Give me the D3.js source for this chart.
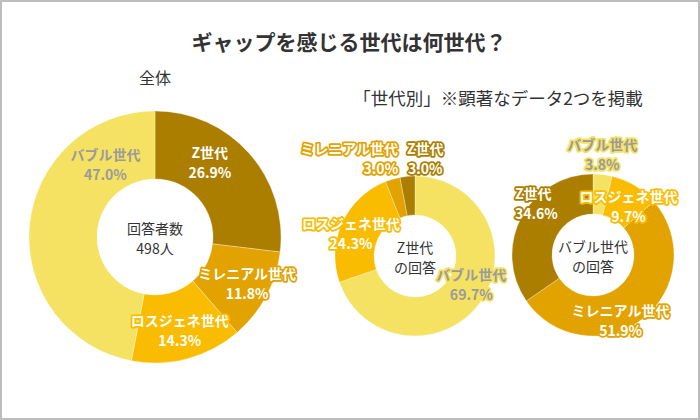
<!DOCTYPE html>
<html>
<head>
<meta charset="utf-8">
<script src="https://cdn.jsdelivr.net/npm/d3@7"></script>
<style>
  html, body { margin: 0; padding: 0; background: #fff; }
  svg text { font-family: "Noto Sans CJK JP", "Noto Sans", sans-serif; }
</style>
</head>
<body>
<svg id="chart"></svg>
<script>
// generations and values
const allGenerations = ['Z世代', 'ミレニアル世代', 'ロスジェネ世代', 'バブル世代']
const allValues = [26.9, 11.8, 14.3, 47.0]

const zGenerations = ['バブル世代', 'ロスジェネ世代', 'ミレニアル世代', 'Z世代']
const zValues = [69.7, 24.3, 3.0, 3.0]

const bubbleGenerations = ['バブル世代', 'ロスジェネ世代', 'ミレニアル世代', 'Z世代']
const bubbleValues = [3.8, 9.7, 51.9, 34.6]

const centerLabels = [['回答者数', '498人'], ['Z世代', 'の回答'], ['バブル世代', 'の回答']]

const titleText = 'ギャップを感じる世代は何世代？'
const allText = '全体'
const subText = '「世代別」※顕著なデータ2つを掲載'

const width = 700
const height = 420

const colors = {
    'Z世代': '#ac7e00',
    'ミレニアル世代': '#e2a200',
    'ロスジェネ世代': '#f9bc00',
    'バブル世代': '#f5e262'
}
const textColor = (g) => g === 'バブル世代' ? '#9b9b9b' : '#ffffff'

let svg = d3.select('#chart')
    .attr('width', width)
    .attr('height', height)

/* Frame */
svg.append('rect')
    .attr('x', 1).attr('y', 1)
    .attr('width', width - 2).attr('height', height - 2)
    .attr('fill', '#fff')
    .attr('stroke', '#bdbdbd')
    .attr('stroke-width', 2)

/* Titles */
svg.append('text')
    .attr('x', 349).attr('y', 50)
    .attr('text-anchor', 'middle')
    .attr('font-size', 21).attr('font-weight', 'bold')
    .attr('fill', '#333')
    .text(titleText)

svg.append('text')
    .attr('x', 155).attr('y', 84)
    .attr('text-anchor', 'middle')
    .attr('font-size', 16)
    .attr('fill', '#333')
    .text(allText)

svg.append('text')
    .attr('x', 498).attr('y', 105)
    .attr('text-anchor', 'middle')
    .attr('font-size', 17.5)
    .attr('fill', '#333')
    .text(subText)

/* Donuts: layout + label nudges (dx, dy, anchor) */
const charts = [
    {
        cats: allGenerations, vals: allValues, center: centerLabels[0],
        cx: 155, cy: 237, r0: 58, r1: 126,
        nudge: [[-14, -14, 'middle'], [11, 3, 'middle'], [1, 4, 'middle'], [42, -64, 'middle']]
    },
    {
        cats: zGenerations, vals: zValues, center: centerLabels[1],
        cx: 415, cy: 256, r0: 41, r1: 80,
        nudge: [[7, -7, 'middle'], [-9, 2, 'middle'], [0, -40, 'end'], [16, -38, 'middle']]
    },
    {
        cats: bubbleGenerations, vals: bubbleValues, center: centerLabels[2],
        cx: 593, cy: 255, r0: 41, r1: 81,
        nudge: [[2, -40, 'middle'], [4, 3, 'middle'], [-10, 17, 'middle'], [-24, -24, 'start']]
    }
]

const pie = d3.pie().sort(null).value((d) => d.value)

// two-line text as a single <text> with tspans
const twoLines = (sel, lines, gap) => {
    sel.selectAll('tspan')
        .data(lines)
        .enter()
            .append('tspan')
                .attr('x', 0)
                .attr('y', (t, i) => i === 0 ? -gap / 2 : gap / 2)
                .attr('dominant-baseline', 'central')
                .text((t) => t)
}

charts.forEach((c) => {
    let data = c.cats.map((cat, i) => ({ cat: cat, value: c.vals[i], i: i }))
    let arcs = pie(data)
    let arc = d3.arc().innerRadius(c.r0).outerRadius(c.r1)
    let mid = d3.arc().innerRadius((c.r0 + c.r1) / 2).outerRadius((c.r0 + c.r1) / 2)

    let g = svg.append('g')
        .attr('transform', 'translate(' + c.cx + ',' + c.cy + ')')

    g.selectAll('path')
        .data(arcs)
        .enter()
            .append('path')
                .attr('d', arc)
                .attr('fill', (d) => colors[d.data.cat])
                .attr('stroke', '#fff')
                .attr('stroke-opacity', 0.5)
                .attr('stroke-width', 0.6)

    /* center text */
    g.append('text')
        .attr('transform', 'translate(0,0.5)')
        .attr('text-anchor', 'middle')
        .attr('font-size', 14)
        .attr('fill', '#333')
        .call(twoLines, c.center, 20)

    /* data labels */
    g.selectAll('.lbl')
        .data(arcs)
        .enter()
            .append('text')
                .attr('class', 'lbl')
                .attr('transform', (d) => {
                    let p = mid.centroid(d)
                    let n = c.nudge[d.data.i]
                    return 'translate(' + (p[0] + n[0]) + ',' + (p[1] + n[1]) + ')'
                })
                .attr('text-anchor', (d) => c.nudge[d.data.i][2])
                .attr('font-size', 14)
                .attr('font-weight', 'bold')
                .attr('fill', (d) => textColor(d.data.cat))
                .attr('stroke', (d) => colors[d.data.cat])
                .attr('stroke-width', 3.5)
                .attr('stroke-linejoin', 'round')
                .attr('paint-order', 'stroke')
                .each(function (d) {
                    d3.select(this).call(twoLines, [d.data.cat, d.data.value.toFixed(1) + '%'], 20)
                })
})
</script>
</body>
</html>
